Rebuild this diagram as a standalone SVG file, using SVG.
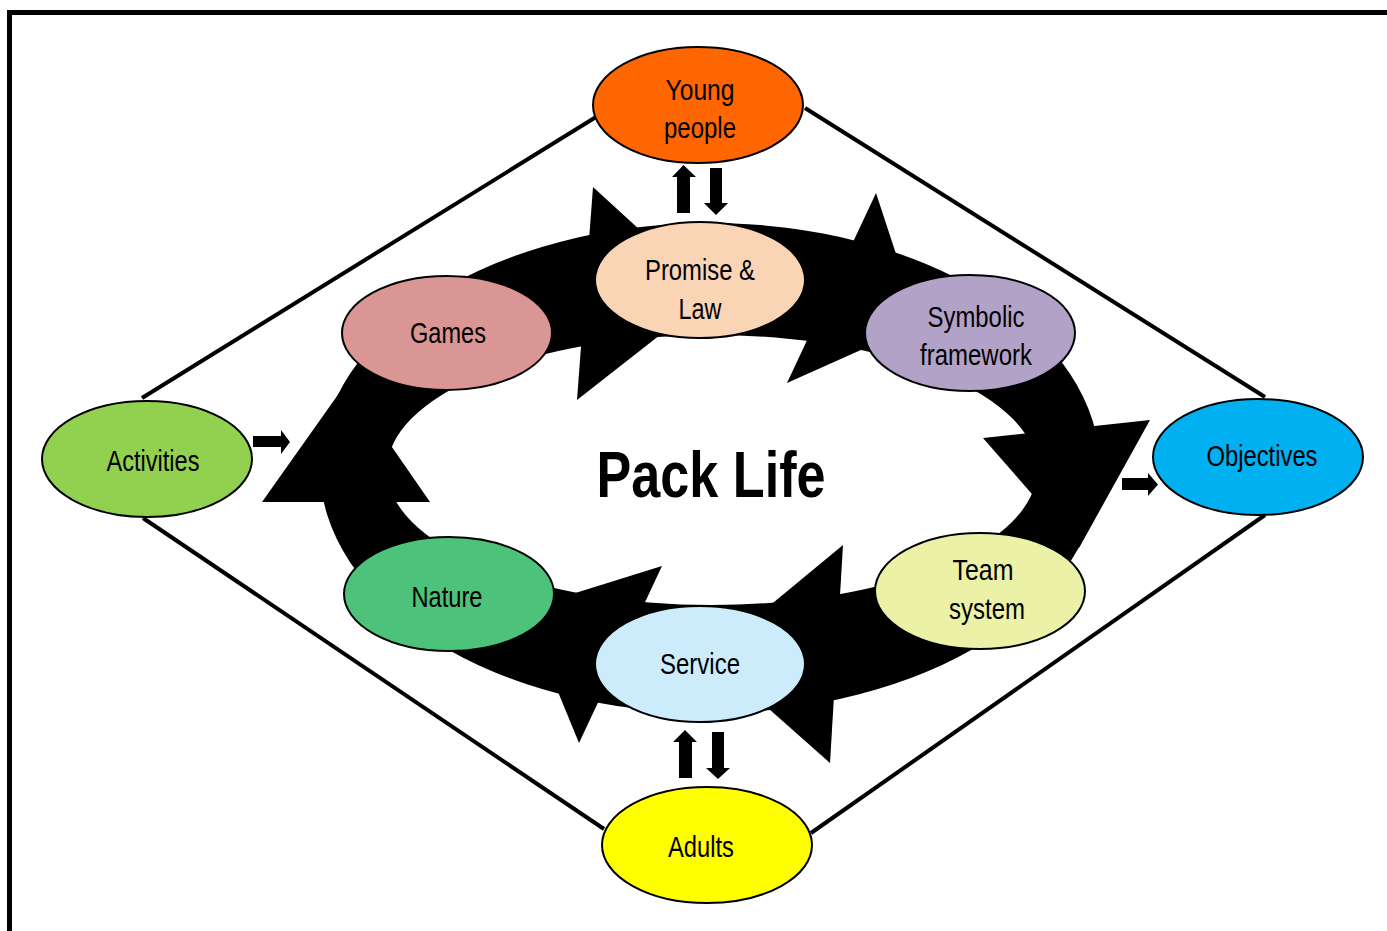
<svg xmlns="http://www.w3.org/2000/svg" width="1387" height="931" viewBox="0 0 1387 931">
<style>
.node ellipse{stroke:#000;stroke-width:2}
.node text,.title{font-family:"Liberation Sans",Arial,sans-serif;text-anchor:middle;fill:#000}
.node text{font-size:29px}
.title{font-size:64px;font-weight:bold}
.edge{stroke:#000;stroke-width:4;fill:none}
.blk{fill:#000}
</style>
<rect x="0" y="0" width="1387" height="931" fill="#fff"/>
<rect x="9.5" y="12.5" width="1400" height="1000" fill="none" stroke="#000" stroke-width="5"/>
<g id="connectors">
<line class="edge" x1="142" y1="398" x2="596" y2="117"/>
<line class="edge" x1="805" y1="108" x2="1265" y2="397"/>
<line class="edge" x1="1265" y1="515" x2="811" y2="833"/>
<line class="edge" x1="604" y1="829" x2="143" y2="518"/>
<polygon class="blk" points="677,213 690,213 690,177 696,177 683.5,165 672,177 677,177"/>
<polygon class="blk" points="710,168 722,168 722,203 728,203 716,215 704,203 710,203"/>
<polygon class="blk" points="679,778 692,778 692,742 697,742 685,730 673,742 679,742"/>
<polygon class="blk" points="712,732 724,732 724,768 730,768 718,779 706,768 712,768"/>
<polygon class="blk" points="253,436 281,436 281,430 290,442 281,454 281,447 253,447"/>
<polygon class="blk" points="1122,478 1148,478 1148,473 1158,484.5 1148,496 1148,490 1122,490"/>
</g>
<g id="cycle">
<path class="blk" fill-rule="evenodd" d="M320,468 A390,245 0 1,0 1100,468 A390,245 0 1,0 320,468 Z M387,470 A325,135 0 1,0 1037,470 A325,135 0 1,0 387,470 Z"/>
<polygon class="blk" points="593,187 577,400 711,295"/>
<polygon class="blk" points="876,193 787,383 919,324"/>
<polygon class="blk" points="983,438 1150,420 1079,548"/>
<polygon class="blk" points="843,545 830,763 709,656"/>
<polygon class="blk" points="662,566 579,743 524,609"/>
<polygon class="blk" points="262,502 430,502 347,382"/>
</g>
<text class="title" x="711" y="497" textLength="229" lengthAdjust="spacingAndGlyphs">Pack Life</text>
<g id="young-people" class="node"><ellipse cx="698" cy="105" rx="105" ry="58" fill="#FF6600"/><text x="700" y="100" textLength="69" lengthAdjust="spacingAndGlyphs">Young</text><text x="700" y="138" textLength="72" lengthAdjust="spacingAndGlyphs">people</text></g>
<g id="promise-law" class="node"><ellipse cx="700" cy="280" rx="105" ry="58" fill="#FAD5B5"/><text x="700" y="280" textLength="110" lengthAdjust="spacingAndGlyphs">Promise &amp;</text><text x="700" y="319" textLength="43" lengthAdjust="spacingAndGlyphs">Law</text></g>
<g id="games" class="node"><ellipse cx="447" cy="333" rx="105" ry="57" fill="#D99694"/><text x="448" y="343" textLength="76" lengthAdjust="spacingAndGlyphs">Games</text></g>
<g id="symbolic-framework" class="node"><ellipse cx="970" cy="333" rx="105" ry="58" fill="#B3A2C7"/><text x="976" y="327" textLength="97" lengthAdjust="spacingAndGlyphs">Symbolic</text><text x="976" y="365" textLength="112" lengthAdjust="spacingAndGlyphs">framework</text></g>
<g id="activities" class="node"><ellipse cx="147" cy="459" rx="105" ry="58" fill="#92D050"/><text x="153" y="471" textLength="93" lengthAdjust="spacingAndGlyphs">Activities</text></g>
<g id="objectives" class="node"><ellipse cx="1258" cy="457" rx="105" ry="58" fill="#00B0F0"/><text x="1262" y="466" textLength="111" lengthAdjust="spacingAndGlyphs">Objectives</text></g>
<g id="nature" class="node"><ellipse cx="449" cy="594" rx="105" ry="57" fill="#4CC27A"/><text x="447" y="607" textLength="71" lengthAdjust="spacingAndGlyphs">Nature</text></g>
<g id="team-system" class="node"><ellipse cx="980" cy="591" rx="105" ry="58" fill="#EBF1A7"/><text x="983" y="580" textLength="61" lengthAdjust="spacingAndGlyphs">Team</text><text x="987" y="619" textLength="76" lengthAdjust="spacingAndGlyphs">system</text></g>
<g id="service" class="node"><ellipse cx="700" cy="664" rx="105" ry="58" fill="#CCECFC"/><text x="700" y="674" textLength="80" lengthAdjust="spacingAndGlyphs">Service</text></g>
<g id="adults" class="node"><ellipse cx="707" cy="845" rx="105" ry="58" fill="#FFFF00"/><text x="701" y="857" textLength="66" lengthAdjust="spacingAndGlyphs">Adults</text></g>
</svg>
